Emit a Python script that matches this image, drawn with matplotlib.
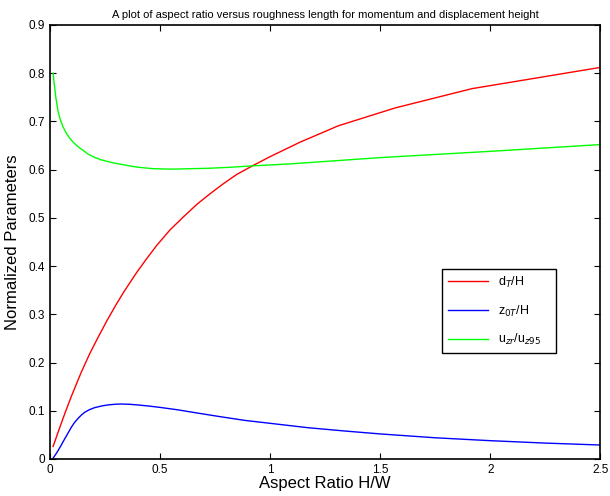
import matplotlib
matplotlib.use("Agg")
import matplotlib.pyplot as plt

plt.rcParams["font.family"] = ["Liberation Sans", "DejaVu Sans"]

# displacement height d_T/H
d_x = [0.014, 0.04, 0.067, 0.097, 0.142, 0.18, 0.218, 0.26, 0.30, 0.336, 0.394, 0.44,
       0.485, 0.545, 0.606, 0.667, 0.727, 0.788, 0.848, 0.924, 1.0, 1.136, 1.31, 1.568,
       1.917, 2.5]
d_y = [0.026, 0.060, 0.094, 0.130, 0.180, 0.218, 0.252, 0.288, 0.320, 0.347, 0.387, 0.416,
       0.443, 0.475, 0.502, 0.528, 0.550, 0.571, 0.590, 0.609, 0.627, 0.657, 0.691, 0.728,
       0.768, 0.812]

# roughness length z_0T/H
z_x = [0.014, 0.025, 0.036, 0.05, 0.067, 0.082, 0.097, 0.112, 0.127, 0.142, 0.158, 0.18,
       0.203, 0.235, 0.264, 0.3, 0.324, 0.36, 0.4, 0.445, 0.5, 0.58, 0.66, 0.77, 0.886,
       1.0, 1.17, 1.34, 1.5, 1.75, 2.0, 2.25, 2.5]
z_y = [0.002, 0.009, 0.017, 0.028, 0.042, 0.054, 0.066, 0.076, 0.084, 0.091, 0.097, 0.1025,
       0.1065, 0.110, 0.1122, 0.1137, 0.114, 0.1135, 0.112, 0.110, 0.107, 0.102, 0.096, 0.088,
       0.080, 0.074, 0.065, 0.058, 0.052, 0.044, 0.038, 0.033, 0.029]

# velocity ratio u_zr/u_z95
u_x = [0.014, 0.020, 0.027, 0.036, 0.047, 0.060, 0.075, 0.090, 0.105, 0.129, 0.15, 0.174,
       0.20, 0.235, 0.27, 0.31, 0.36, 0.40, 0.47, 0.553, 0.64, 0.727, 0.82, 0.924, 1.09,
       1.25, 1.5, 2.0, 2.5]
u_y = [0.800, 0.775, 0.748, 0.722, 0.703, 0.688, 0.675, 0.665, 0.657, 0.647, 0.640, 0.632,
       0.626, 0.620, 0.616, 0.612, 0.608, 0.605, 0.602, 0.601, 0.602, 0.603, 0.605, 0.608,
       0.612, 0.617, 0.625, 0.638, 0.652]

fig = plt.figure(figsize=(6.1, 4.96), dpi=100)
ax = fig.add_axes([0.082, 0.0746, 0.902, 0.875])

ax.plot(d_x, d_y, color=(1, 0, 0), lw=1.0, label=r"d$_T$/H")
ax.plot(z_x, z_y, color=(0, 0, 1), lw=1.0, label=r"z$_{0T}$/H")
ax.plot(u_x, u_y, color=(0, 1, 0), lw=1.0, label=r"u$_{zr}$/u$_{z95}$")

ax.set_xlim(0, 2.5)
ax.set_ylim(0, 0.9)
ax.set_xticks([0, 0.5, 1, 1.5, 2, 2.5])
ax.set_xticklabels(["0", "0.5", "1", "1.5", "2", "2.5"])
ax.set_yticks([i / 10 for i in range(10)])
ax.set_yticklabels(["0"] + [f"0.{i}" for i in range(1, 10)])
ax.tick_params(direction="in", top=True, right=True, labelsize=8.5, length=4)
for s in ax.spines.values():
    s.set_linewidth(1.2)

ax.set_title("A plot of aspect ratio versus roughness length for momentum and displacement height",
             fontsize=8, pad=5)
ax.set_xlabel("Aspect Ratio H/W", fontsize=12, labelpad=0)
ax.set_ylabel("Normalized Parameters", fontsize=12, labelpad=6)

leg = ax.legend(loc="lower left", bbox_to_anchor=(0.713, 0.244, 0.207, 0.191), mode="expand",
                borderaxespad=0, fancybox=False, framealpha=1, edgecolor="black", fontsize=9,
                handlelength=3.2, borderpad=0.45, labelspacing=1.1)
leg.get_frame().set_linewidth(1.0)

fig.savefig("out.png", dpi=100)
